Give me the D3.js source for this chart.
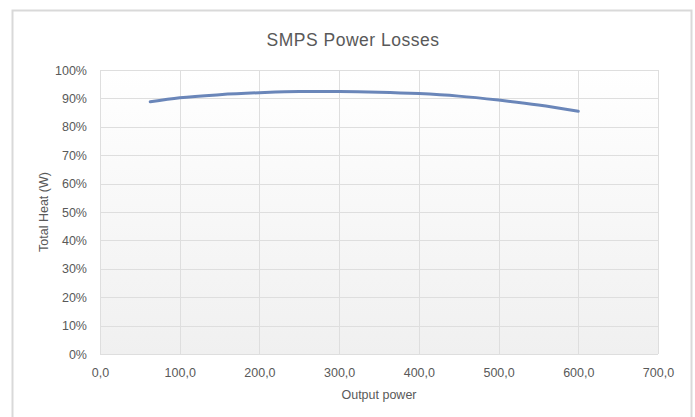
<!DOCTYPE html>
<html>
<head>
<meta charset="utf-8">
<script src="https://cdn.jsdelivr.net/npm/d3@7"></script>
<style>
  body { margin: 0; background: #fff; }
  text { font-family: "Liberation Sans", Arial, sans-serif; fill: #595959; }
</style>
</head>
<body>
<script>
// output power (W) and efficiency (%)
var power = [63, 100, 150, 200, 250, 300, 350, 400, 450, 500, 550, 600];
var efficiency = [88.8, 90.2, 91.3, 92.0, 92.4, 92.4, 92.2, 91.7, 90.8, 89.4, 87.7, 85.5];
var xTicks = [0, 100, 200, 300, 400, 500, 600, 700];
var yTicks = [0, 10, 20, 30, 40, 50, 60, 70, 80, 90, 100];

const w = 695;
const h = 417;
const padL = 100, padR = 658, padT = 70, padB = 354;

const svg = d3.select("body").append("svg").attr("width", w).attr("height", h);

// chart frame
svg.append("rect").attr("x", 12.5).attr("y", 10.5).attr("width", 679).attr("height", 420)
  .attr("fill", "#fff").attr("stroke", "#d9d9d9").attr("stroke-width", 2);

const defs = svg.append("defs");
const grad = defs.append("linearGradient").attr("id", "bg").attr("x1", 0).attr("y1", 0).attr("x2", 0).attr("y2", 1);
grad.append("stop").attr("offset", "0%").attr("stop-color", "#ffffff");
grad.append("stop").attr("offset", "100%").attr("stop-color", "#f0f0f0");

const xScale = d3.scaleLinear().domain([0, 700]).range([padL, padR]);
const yScale = d3.scaleLinear().domain([0, 100]).range([padB, padT]);

svg.append("rect").attr("x", padL).attr("y", padT).attr("width", padR - padL).attr("height", padB - padT)
  .attr("fill", "url(#bg)");

// grid
svg.append("g").selectAll("line").data(yTicks).enter().append("line")
  .attr("x1", padL).attr("x2", padR)
  .attr("y1", d => Math.round(yScale(d)) + 0.5).attr("y2", d => Math.round(yScale(d)) + 0.5)
  .attr("stroke", "#dedede");
svg.append("g").selectAll("line").data(xTicks).enter().append("line")
  .attr("y1", padT).attr("y2", padB)
  .attr("x1", d => Math.round(xScale(d)) + 0.5).attr("x2", d => Math.round(xScale(d)) + 0.5)
  .attr("stroke", "#dedede");

const fmt = d3.format(".1f");
const xAxis = d3.axisBottom(xScale).tickValues(xTicks).tickSize(0).tickPadding(14)
  .tickFormat(d => fmt(d).replace(".", ","));
const yAxis = d3.axisLeft(yScale).tickValues(yTicks).tickSize(0).tickPadding(13)
  .tickFormat(d => d + "%");

const gx = svg.append("g").attr("transform", "translate(0," + padB + ")").call(xAxis);
const gy = svg.append("g").attr("transform", "translate(" + padL + ",0)").call(yAxis);
[gx, gy].forEach(g => {
  g.select(".domain").remove();
  g.selectAll("text").attr("font-size", 12.5).attr("fill", "#595959")
    .style("font-family", '"Liberation Sans", Arial, sans-serif');
});

const line = d3.line().x((d, i) => xScale(power[i])).y(d => yScale(d)).curve(d3.curveMonotoneX);
svg.append("path").datum(efficiency).attr("d", line)
  .attr("fill", "none").attr("stroke", "#6a86b9").attr("stroke-width", 3).attr("stroke-linecap", "round");

svg.append("text").attr("x", 353).attr("y", 46).attr("text-anchor", "middle")
  .attr("font-size", 17.5).attr("letter-spacing", 0.5).attr("fill", "#666").text("SMPS Power Losses");

svg.append("text").attr("x", (padL + padR) / 2).attr("y", 399).attr("text-anchor", "middle")
  .attr("font-size", 12.5).text("Output power");

svg.append("text").attr("transform", "translate(48," + (padT + padB) / 2 + ") rotate(-90)")
  .attr("text-anchor", "middle").attr("font-size", 12.5).text("Total Heat (W)");
</script>
</body>
</html>
